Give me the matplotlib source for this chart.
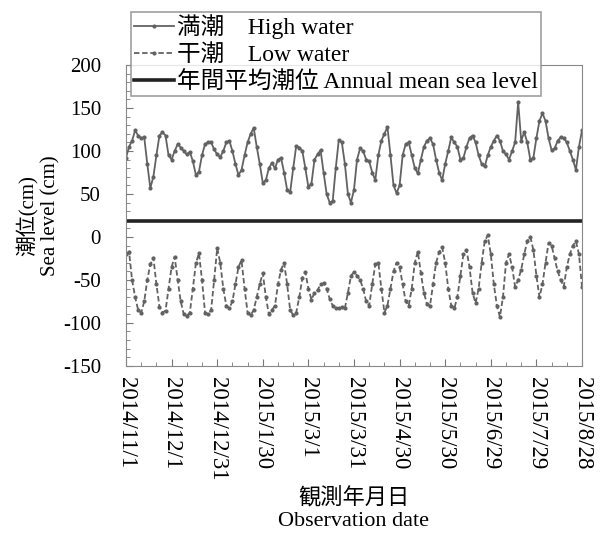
import numpy as np
import pandas as pd
import matplotlib
matplotlib.use("Agg")
import matplotlib.pyplot as plt
from matplotlib.ticker import MultipleLocator, FuncFormatter
import matplotlib.dates as mdates

plt.rcParams['font.family'] = ['Liberation Serif', 'Noto Sans CJK JP']
plt.rcParams['axes.unicode_minus'] = False

# --- données (lecture du graphique, un point tous les 2 jours) ---
dates = pd.date_range("2014-11-01", "2015-08-28", freq="2D")

high_water = [
    92, 105, 112, 124, 118, 115, 116, 85, 57, 70,
    95, 118, 122, 118, 95, 90, 100, 108, 104, 100,
    96, 99, 88, 72, 76, 95, 108, 110, 110, 102,
    96, 93, 100, 110, 112, 100, 85, 72, 78, 95,
    110, 120, 127, 105, 85, 63, 66, 80, 86, 80,
    90, 92, 75, 55, 52, 80, 106, 104, 100, 80,
    58, 62, 90, 96, 101, 75, 50, 40, 42, 80,
    113, 110, 85, 50, 40, 55, 90, 103, 100, 90,
    88, 75, 66, 95, 112, 120, 128, 95, 60, 51,
    60, 95, 108, 110, 95, 80, 74, 90, 105, 112,
    115, 108, 90, 75, 66, 85, 100, 116, 110, 105,
    90, 92, 105, 115, 118, 110, 95, 85, 82, 95,
    105, 112, 118, 112, 100, 96, 90, 100, 110, 157,
    112, 122, 110, 90, 92, 115, 135, 144, 135, 115,
    101, 103, 112, 116, 115, 110, 100, 90, 78, 105,
    124,
]

low_water = [
    -20, -17, -50, -70, -85, -88, -75, -50, -32, -24,
    -55, -81, -88, -86, -60, -35, -23, -50, -75, -90,
    -92, -88, -60, -30, -19, -50, -88, -90, -85, -50,
    -13, -30, -60, -80, -83, -75, -55, -35, -27, -60,
    -88, -91, -85, -70, -55, -42, -70, -90, -85, -80,
    -55, -38, -30, -55, -85, -91, -88, -70, -48, -41,
    -60, -73, -65, -62, -55, -54, -60, -72, -80, -83,
    -83, -82, -83, -65, -45, -41, -45, -50, -60, -75,
    -80, -55, -32, -30, -60, -88, -80, -60, -40, -30,
    -35, -55, -75, -80, -60, -30, -17, -42, -65, -78,
    -80, -55, -30, -18, -12, -30, -60, -80, -83, -70,
    -45, -20, -15, -35, -65, -77, -60, -30, -5, 2,
    -20, -55, -80, -93, -70, -30, -20, -35, -58, -50,
    -38, -20, -5, 0, -15, -45, -70, -55, -30, -7,
    -10, -25, -40, -50, -58, -35, -20, -10, -5, -20,
    -58,
]

mean_level = 19
tick_dates = pd.date_range("2014-11-01", "2015-08-28", freq="30D")
minor_dates = pd.date_range("2014-11-01", "2015-08-28", freq="10D")

# --- figure ---
fig = plt.figure(figsize=(6, 5.38), dpi=100)
ax = fig.add_axes([0.21, 0.320, 0.76, 0.559])

gris = "#626262"
ax.plot(dates, high_water, color=gris, lw=1.3, marker=".", ms=4,
        label="満潮　High water")
ax.plot(dates, low_water, color=gris, lw=1.3, ls=(0, (3, 1.5)), marker=".", ms=4,
        label="干潮　Low water")
ax.plot([dates[0], dates[-1]], [mean_level, mean_level], color="#222222", lw=2.6,
        label="年間平均潮位 Annual mean sea level")

ax.set_xlim(dates[0], dates[-1])
ax.set_ylim(-150, 200)
ax.set_xticks(tick_dates)
ax.set_xticks(minor_dates, minor=True)
ax.xaxis.set_major_formatter(FuncFormatter(
    lambda v, p: (lambda d: f"{d.year}/{d.month}/{d.day}")(mdates.num2date(v))))
ax.yaxis.set_major_locator(MultipleLocator(50))
ax.yaxis.set_minor_locator(MultipleLocator(10))

for lab in ax.get_xticklabels():
    lab.set_rotation(270)
ax.tick_params(axis="x", labelsize=16.5, pad=8)
ax.tick_params(axis="y", labelsize=15, pad=18)
ax.tick_params(which="both", direction="in", color="#777777")
ax.tick_params(which="major", length=5)
ax.tick_params(which="minor", length=3)
for s in ax.spines.values():
    s.set_color("#888888")

ax.set_ylabel("潮位(cm)\nSea level (cm)", fontsize=15, labelpad=2)
ax.set_xlabel("観測年月日\nObservation date", fontsize=16, labelpad=5)

leg = fig.legend(loc="upper left", bbox_to_anchor=(0.218, 0.978), fontsize=17,
                 frameon=True, fancybox=False, edgecolor="#888888",
                 handlelength=1.7, handletextpad=0.15, labelspacing=0.22,
                 borderpad=0.12, borderaxespad=0, numpoints=1)
leg.get_frame().set_linewidth(1.2)

fig.savefig("out.png", dpi=100)
